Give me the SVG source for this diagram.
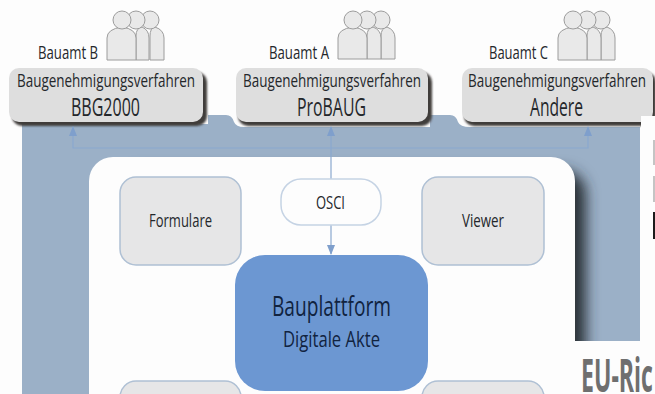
<svg xmlns="http://www.w3.org/2000/svg" width="655" height="394" viewBox="0 0 655 394">
<defs>
<filter id="blur" x="-10%" y="-20%" width="120%" height="150%"><feGaussianBlur stdDeviation="0.9"/></filter>
<filter id="wide" x="-20%" y="-20%" width="140%" height="140%"><feGaussianBlur stdDeviation="7"/></filter>
<marker id="arr" viewBox="0 0 10 10" refX="9" refY="5" markerWidth="10" markerHeight="10" markerUnits="userSpaceOnUse" orient="auto-start-reverse"><path d="M0 1L10 5L0 9Z" fill="#7f9fcc"/></marker>
<clipPath id="bandclip"><rect x="22" y="115" width="618" height="226"/></clipPath>
</defs>
<style>
text{font-family:"Open Sans","Liberation Sans",sans-serif;fill:#24272b}
.sm{font-size:18px}
.hd{font-size:18px}
.nm{font-size:25px}
.lb{font-size:18px}
.box{fill:#dedede}
.sh{fill:#3f3d3b;filter:url(#blur)}
.gr{fill:#e6e6e7;stroke:#afc0d4;stroke-width:1.5}
.head{fill:#e9e9e9;stroke:#9c9c9c;stroke-width:1}
.conn{fill:none;stroke:#8aa8cf;stroke-width:1.2}
</style>
<rect width="655" height="394" fill="#fdfdfd"/>
<path id="band" d="M22 124H208V115H226Q232 115 234 122Q236 127 244 127H430V115H450Q456 115 458 122Q460 127 470 127H640V394H22Z" fill="#9bb0c7"/>
<g clip-path="url(#bandclip)"><rect x="120" y="170" width="466" height="262" rx="24" fill="#2c3238" filter="url(#wide)"/></g>
<rect id="panel" x="89" y="157" width="486" height="260" rx="24" fill="#fdfdfd"/>
<g id="bauamt-b">
<rect class="sh" x="12" y="72" width="195" height="54" rx="10"/>
<rect class="box" x="9" y="68" width="194" height="54" rx="10"/>
<text class="hd" x="17" y="87" textLength="178" lengthAdjust="spacingAndGlyphs">Baugenehmigungsverfahren</text>
<text class="nm" x="71" y="116" textLength="69" lengthAdjust="spacingAndGlyphs">BBG2000</text>
<text class="sm" x="38" y="59" textLength="60" lengthAdjust="spacingAndGlyphs">Bauamt B</text>
<g class="people">
<path class="head" d="M150 60V36Q150 28 155 27Q164 30 164 38V60Z"/><circle class="head" cx="150" cy="20" r="9"/>
<path class="head" d="M136 60V36Q136 28 142 27Q149 30 149 38V60Z"/><circle class="head" cx="136" cy="20" r="9"/>
<path class="head" d="M107 60V38Q107 29 122 27Q136 29 136 38V60Z"/><circle class="head" cx="122" cy="20" r="9"/>
</g>
</g>
<g id="bauamt-a">
<rect class="sh" x="238" y="72" width="194" height="54" rx="10"/>
<rect class="box" x="236" y="68" width="192" height="54" rx="10"/>
<text class="hd" x="243" y="87" textLength="178" lengthAdjust="spacingAndGlyphs">Baugenehmigungsverfahren</text>
<text class="nm" x="297" y="116" textLength="69" lengthAdjust="spacingAndGlyphs">ProBAUG</text>
<text class="sm" x="269" y="59" textLength="60" lengthAdjust="spacingAndGlyphs">Bauamt A</text>
<g class="people">
<path class="head" d="M381 59V36Q381 28 387 27Q395 30 395 38V59Z"/><circle class="head" cx="381" cy="20" r="9"/>
<path class="head" d="M367 59V36Q367 28 373 27Q381 30 381 38V59Z"/><circle class="head" cx="367" cy="20" r="9"/>
<path class="head" d="M338 59V38Q338 29 353 27Q367 29 367 38V59Z"/><circle class="head" cx="353" cy="20" r="9"/>
</g>
</g>
<g id="bauamt-c">
<rect class="sh" x="464" y="72" width="192" height="54" rx="10"/>
<rect class="box" x="462" y="68" width="191" height="54" rx="10"/>
<text class="hd" x="468" y="87" textLength="178" lengthAdjust="spacingAndGlyphs">Baugenehmigungsverfahren</text>
<text class="nm" x="530" y="116" textLength="53" lengthAdjust="spacingAndGlyphs">Andere</text>
<text class="sm" x="489" y="59" textLength="59" lengthAdjust="spacingAndGlyphs">Bauamt C</text>
<g class="people">
<path class="head" d="M601 60V36Q601 28 607 27Q615 30 615 38V60Z"/><circle class="head" cx="601" cy="20" r="9"/>
<path class="head" d="M587 60V36Q587 28 593 27Q601 30 601 38V60Z"/><circle class="head" cx="587" cy="20" r="9"/>
<path class="head" d="M558 60V38Q558 29 573 27Q587 29 587 38V60Z"/><circle class="head" cx="573" cy="20" r="9"/>
</g>
</g>
<g id="connectors">
<path class="conn" d="M73 127V148H588V127" marker-start="url(#arr)" marker-end="url(#arr)"/>
<path class="conn" d="M331 127V179" marker-start="url(#arr)"/>
<path class="conn" d="M331 225V254" marker-end="url(#arr)"/>
</g>
<g id="formulare"><rect class="gr" x="120" y="177" width="121" height="88" rx="16"/><text class="lb" x="149" y="227" textLength="63" lengthAdjust="spacingAndGlyphs">Formulare</text></g>
<g id="viewer"><rect class="gr" x="422" y="177" width="122" height="88" rx="16"/><text class="lb" x="462" y="227" textLength="42" lengthAdjust="spacingAndGlyphs">Viewer</text></g>
<g id="osci"><rect x="281" y="179" width="100" height="46" rx="20" fill="#fdfdfd" stroke="#c5d3e4" stroke-width="1.5"/><text class="lb" x="316" y="209" textLength="29" lengthAdjust="spacingAndGlyphs">OSCI</text></g>
<g id="bauplattform"><rect x="235" y="255" width="193" height="136" rx="30" fill="#6c97d2"/><text x="272" y="316" font-size="27" textLength="119" lengthAdjust="spacingAndGlyphs" style="fill:#11233f">Bauplattform</text><text x="283" y="347" font-size="21" textLength="97" lengthAdjust="spacingAndGlyphs" style="fill:#11233f">Digitale Akte</text></g>
<g id="bottom-left"><rect class="gr" x="120" y="381" width="121" height="40" rx="16"/></g>
<g id="bottom-right"><rect class="gr" x="422" y="381" width="122" height="40" rx="16"/></g>
<rect id="overlay-a" x="641" y="116" width="14" height="225" fill="#fdfdfd"/>
<rect x="653" y="140" width="2" height="25" fill="#c4c4c4"/>
<rect x="653" y="176" width="2" height="26" fill="#c4c4c4"/>
<rect x="653" y="212" width="2" height="27" fill="#1c1c1c"/>
<rect id="overlay-b" x="574" y="341" width="81" height="53" fill="#fdfdfd"/>
<text x="581" y="392" font-size="46" font-weight="700" textLength="72" lengthAdjust="spacingAndGlyphs" style="fill:#6f6f6f">EU-Ric</text>
</svg>
